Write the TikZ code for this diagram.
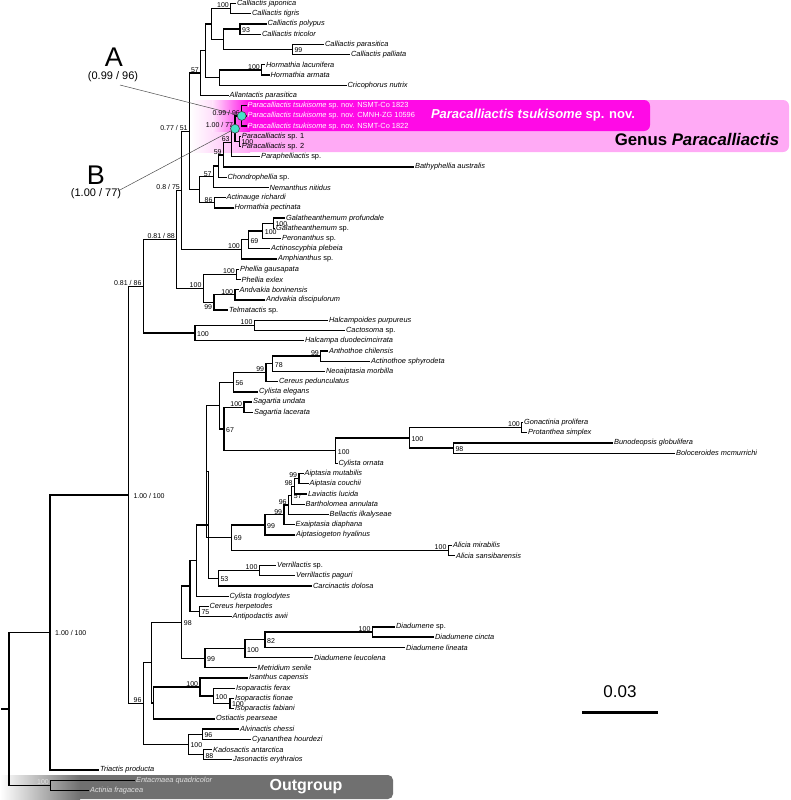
\documentclass[tikz,border=0pt]{standalone}
\usepackage{fontspec}
\setmainfont{Liberation Sans}
\begin{document}
\begin{tikzpicture}[x=1pt,y=-1pt,
    br/.style={line width=1.3pt},
    tip/.style={anchor=west, inner xsep=0.9pt, inner ysep=0pt, font=\fontsize{7.4}{8}\selectfont},
    bsl/.style={anchor=south east, inner sep=0.5pt, xshift=-1.2pt, font=\fontsize{7}{8}\selectfont},
    bsr/.style={anchor=west, inner sep=0.5pt, xshift=1.5pt, yshift=-1pt, font=\fontsize{7}{8}\selectfont},
    bsb/.style={anchor=north east, inner sep=0.5pt, xshift=-1.2pt, yshift=-1pt, font=\fontsize{7}{8}\selectfont},
    dot/.style={circle, fill=mydot, draw=black!75, line width=0.6pt, inner sep=0pt, minimum size=9pt},
    leader/.style={line width=0.5pt, black!70}]
    \definecolor{mydot}{RGB}{70,225,200}
    \definecolor{genpink}{RGB}{255,170,245}
    \definecolor{tsumag}{RGB}{255,10,230}
    \definecolor{ogray}{RGB}{112,112,112}

    \useasboundingbox (0,0) rectangle (790,800);

    % highlight boxes
    \fill[genpink, rounded corners=6pt] (240,100) rectangle (789,152);
    \shade[left color=white, right color=genpink] (190,100) rectangle (250,152);
    \fill[tsumag, rounded corners=6pt] (245,100) rectangle (650,131);
    \shade[left color=genpink!30!white, right color=tsumag] (212,100) rectangle (250,131);
    \fill[ogray, rounded corners=5pt] (75,775) rectangle (393,799);
    \shade[left color=white, right color=ogray] (0,775) rectangle (80,799);

    \node[text=white, font=\bfseries\fontsize{13}{15}\selectfont] (tsuname) at (533,115) {\textit{Paracalliactis tsukisome} sp. nov.};
    \node[font=\bfseries\fontsize{16.8}{18}\selectfont] (genname) at (697,139) {Genus \textit{Paracalliactis}};
    \node[text=white, font=\bfseries\fontsize{16}{18}\selectfont] (outg) at (306,787) {Outgroup};

    % tips
    \node[tip] (t1) at (236,3.5) {\textit{Calliactis japonica}};
    \node[tip] (t2) at (251,13.72) {\textit{Calliactis tigris}};
    \node[tip] (t3) at (266.5,23.94) {\textit{Calliactis polypus}};
    \node[tip] (t4) at (261,34.16) {\textit{Calliactis tricolor}};
    \node[tip] (t5) at (324,44.38) {\textit{Calliactis parasitica}};
    \node[tip] (t6) at (350,54.6) {\textit{Calliactis palliata}};
    \node[tip] (t7) at (265,64.82) {\textit{Hormathia lacunifera}};
    \node[tip] (t8) at (269.5,75.04) {\textit{Hormathia armata}};
    \node[tip] (t9) at (346.5,85.26) {\textit{Cricophorus nutrix}};
    \node[tip] (t10) at (228.5,95.48) {\textit{Allantactis parasitica}};
    \node[tip, text=white] (t11) at (246.5,105.7) {\textit{Paracalliactis tsukisome} sp. nov. NSMT-Co 1823};
    \node[tip, text=white] (t12) at (246.5,115.92) {\textit{Paracalliactis tsukisome} sp. nov. CMNH-ZG 10596};
    \node[tip, text=white] (t13) at (246.5,126.14) {\textit{Paracalliactis tsukisome} sp. nov. NSMT-Co 1822};
    \node[tip] (t14) at (240.8,136.36) {\textit{Paracalliactis} sp. 1};
    \node[tip] (t15) at (240.8,146.58) {\textit{Paracalliactis} sp. 2};
    \node[tip] (t16) at (260,156.8) {\textit{Paraphelliactis} sp.};
    \node[tip] (t17) at (414,167.02) {\textit{Bathyphellia australis}};
    \node[tip] (t18) at (226.5,177.24) {\textit{Chondrophellia} sp.};
    \node[tip] (t19) at (268.5,187.46) {\textit{Nemanthus nitidus}};
    \node[tip] (t20) at (225.5,197.68) {\textit{Actinauge richardi}};
    \node[tip] (t21) at (233.5,207.9) {\textit{Hormathia pectinata}};
    \node[tip] (t22) at (285,218.12) {\textit{Galatheanthemum profundale}};
    \node[tip] (t23) at (275,228.34) {\textit{Galatheanthemum} sp.};
    \node[tip] (t24) at (281,238.56) {\textit{Peronanthus} sp.};
    \node[tip] (t25) at (270,248.78) {\textit{Actinoscyphia plebeia}};
    \node[tip] (t26) at (277,259) {\textit{Amphianthus} sp.};
    \node[tip] (t27) at (239,269.22) {\textit{Phellia gausapata}};
    \node[tip] (t28) at (240.5,279.44) {\textit{Phellia exlex}};
    \node[tip] (t29) at (238.5,289.66) {\textit{Andvakia boninensis}};
    \node[tip] (t30) at (265,299.88) {\textit{Andvakia discipulorum}};
    \node[tip] (t31) at (228,310.1) {\textit{Telmatactis} sp.};
    \node[tip] (t32) at (328,320.32) {\textit{Halcampoides purpureus}};
    \node[tip] (t33) at (345,330.54) {\textit{Cactosoma} sp.};
    \node[tip] (t34) at (304,340.76) {\textit{Halcampa duodecimcirrata}};
    \node[tip] (t35) at (328,350.98) {\textit{Anthothoe chilensis}};
    \node[tip] (t36) at (370,361.2) {\textit{Actinothoe sphyrodeta}};
    \node[tip] (t37) at (325,371.42) {\textit{Neoaiptasia morbilla}};
    \node[tip] (t38) at (278,381.64) {\textit{Cereus pedunculatus}};
    \node[tip] (t39) at (258,391.86) {\textit{Cylista elegans}};
    \node[tip] (t40) at (252,402.08) {\textit{Sagartia undata}};
    \node[tip] (t41) at (253,412.3) {\textit{Sagartia lacerata}};
    \node[tip] (t42) at (523,422.52) {\textit{Gonactinia prolifera}};
    \node[tip] (t43) at (527,432.74) {\textit{Protanthea simplex}};
    \node[tip] (t44) at (613,442.96) {\textit{Bunodeopsis globulifera}};
    \node[tip] (t45) at (675,453.18) {\textit{Boloceroides mcmurrichi}};
    \node[tip] (t46) at (337.5,463.4) {\textit{Cylista ornata}};
    \node[tip] (t47) at (303.5,473.62) {\textit{Aiptasia mutabilis}};
    \node[tip] (t48) at (308.5,483.84) {\textit{Aiptasia couchii}};
    \node[tip] (t49) at (307,494.06) {\textit{Laviactis lucida}};
    \node[tip] (t50) at (304.5,504.28) {\textit{Bartholomea annulata}};
    \node[tip] (t51) at (328.5,514.5) {\textit{Bellactis ilkalyseae}};
    \node[tip] (t52) at (294.5,524.72) {\textit{Exaiptasia diaphana}};
    \node[tip] (t53) at (295,534.94) {\textit{Aiptasiogeton hyalinus}};
    \node[tip] (t54) at (452,545.16) {\textit{Alicia mirabilis}};
    \node[tip] (t55) at (455,555.38) {\textit{Alicia sansibarensis}};
    \node[tip] (t56) at (276,565.6) {\textit{Verrillactis} sp.};
    \node[tip] (t57) at (295,575.82) {\textit{Verrillactis paguri}};
    \node[tip] (t58) at (312,586.04) {\textit{Carcinactis dolosa}};
    \node[tip] (t59) at (228.5,596.26) {\textit{Cylista troglodytes}};
    \node[tip] (t60) at (208.5,606.48) {\textit{Cereus herpetodes}};
    \node[tip] (t61) at (231.5,616.7) {\textit{Antipodactis awii}};
    \node[tip] (t62) at (395,626.92) {\textit{Diadumene} sp.};
    \node[tip] (t63) at (434,637.14) {\textit{Diadumene cincta}};
    \node[tip] (t64) at (405,647.36) {\textit{Diadumene lineata}};
    \node[tip] (t65) at (313,657.58) {\textit{Diadumene leucolena}};
    \node[tip] (t66) at (256.5,667.8) {\textit{Metridium senile}};
    \node[tip] (t67) at (248,678.02) {\textit{Isanthus capensis}};
    \node[tip] (t68) at (235,688.24) {\textit{Isoparactis ferax}};
    \node[tip] (t69) at (234,698.46) {\textit{Isoparactis fionae}};
    \node[tip] (t70) at (234,708.68) {\textit{Isoparactis fabiani}};
    \node[tip] (t71) at (215,718.9) {\textit{Ostiactis pearseae}};
    \node[tip] (t72) at (239,729.12) {\textit{Alvinactis chessi}};
    \node[tip] (t73) at (251,739.34) {\textit{Cyananthea hourdezi}};
    \node[tip] (t74) at (212,749.56) {\textit{Kadosactis antarctica}};
    \node[tip] (t75) at (232,759.78) {\textit{Jasonactis erythraios}};
    \node[tip] (t76) at (99,770) {\textit{Triactis producta}};
    \node[tip, text=black!12] (t77) at (135,780.22) {\textit{Entacmaea quadricolor}};
    \node[tip, text=black!12] (t78) at (89,790.44) {\textit{Actinia fragacea}};

    % internal nodes
    \coordinate (JT) at (230.7,8.61);
    \coordinate (N93) at (240,29.05);
    \coordinate (N99C) at (292.3,49.49);
    \coordinate (C2) at (223.3,39.27);
    \coordinate (C1) at (211.7,23.94);
    \coordinate (Hm) at (261.7,69.93);
    \coordinate (H) at (219.3,77.6);
    \coordinate (CH) at (205.7,50.77);
    \coordinate (N57) at (200.7,73.13);
    \coordinate (A) at (241.7,115.92);
    \coordinate (SP) at (239.3,141.47);
    \coordinate (B) at (235,128.7);
    \coordinate (N63) at (231.5,142.75);
    \coordinate (N59) at (223.5,154.89);
    \coordinate (N57b) at (218.5,166.07);
    \coordinate (Nem) at (213.5,176.77);
    \coordinate (N86) at (214.3,202.79);
    \coordinate (X200) at (199.3,189.78);
    \coordinate (X190) at (189.5,131.46);
    \coordinate (G) at (273.3,223.23);
    \coordinate (GP2) at (262.7,230.9);
    \coordinate (N69G) at (248.3,239.84);
    \coordinate (Gal) at (241.7,249.42);
    \coordinate (a) at (181.7,190.44);
    \coordinate (Ph) at (236.7,274.33);
    \coordinate (An) at (235,294.77);
    \coordinate (N99An) at (214,302.44);
    \coordinate (PA) at (203.3,288.39);
    \coordinate (b) at (176.7,239.42);
    \coordinate (HC) at (254.3,325.43);
    \coordinate (Halc) at (195,333.1);
    \coordinate (c) at (143.3,286.26);
    \coordinate (Ant) at (320.7,356.09);
    \coordinate (N78) at (272.7,363.76);
    \coordinate (N99b) at (266,372.7);
    \coordinate (N56) at (233.3,382.28);
    \coordinate (Sag) at (244,407.19);
    \coordinate (GPr) at (521.7,427.63);
    \coordinate (N98c) at (453.3,448.07);
    \coordinate (Gon) at (409.3,437.85);
    \coordinate (Co) at (335.7,450.63);
    \coordinate (N67) at (224,428.91);
    \coordinate (K) at (219.3,405.6);
    \coordinate (Aip) at (299,478.73);
    \coordinate (N98L) at (294.5,486.4);
    \coordinate (N57B) at (291.7,495.34);
    \coordinate (N96B) at (288.5,504.92);
    \coordinate (N99E) at (284,514.82);
    \coordinate (N99G) at (265,524.88);
    \coordinate (Ali) at (448.3,550.27);
    \coordinate (N69) at (231.7,537.58);
    \coordinate (P) at (206.3,471.59);
    \coordinate (V) at (259.3,570.71);
    \coordinate (N53) at (218.3,578.38);
    \coordinate (Q) at (208.3,524.99);
    \coordinate (N) at (196.7,560.63);
    \coordinate (N75) at (199.3,611.59);
    \coordinate (J) at (190,586.11);
    \coordinate (Dsc) at (372.3,632.03);
    \coordinate (N82) at (265,639.7);
    \coordinate (D100) at (245,648.64);
    \coordinate (N99) at (205,658.22);
    \coordinate (N98) at (181.7,622.17);
    \coordinate (FF) at (230,703.57);
    \coordinate (Fe) at (213.3,695.91);
    \coordinate (I) at (200,686.97);
    \coordinate (h) at (153.3,702.94);
    \coordinate (g) at (151.7,662.56);
    \coordinate (AC) at (202.3,734.23);
    \coordinate (KJ) at (203.3,754.67);
    \coordinate (Alv) at (188.3,744.45);
    \coordinate (f) at (143.3,703.51);
    \coordinate (d) at (128.3,494.89);
    \coordinate (e) at (50,632.45);
    \coordinate (og) at (50.7,785.33);
    \coordinate (root) at (9,708.89);
    \coordinate (stub) at (1,708.89);

    % branches
    \draw[br] (stub) -- (root);
    \foreach \p/\c in {root/e, root/og, og/t77, og/t78, e/d, e/t76, d/c, d/f,
        c/b, c/Halc, b/a, b/PA, a/X190, a/Gal, X190/N57, X190/X200,
        N57/CH, N57/t10, CH/C1, CH/H, C1/JT, C1/C2, JT/t1, JT/t2,
        C2/N93, C2/N99C, N93/t3, N93/t4, N99C/t5, N99C/t6, H/Hm, H/t9, Hm/t7, Hm/t8,
        X200/Nem, X200/N86, Nem/N57b, Nem/t19, N57b/N59, N57b/t18, N59/N63, N59/t17,
        N63/B, N63/t16, B/A, B/SP, A/t11, A/t12, A/t13, SP/t14, SP/t15, N86/t20, N86/t21,
        Gal/N69G, Gal/t26, N69G/GP2, N69G/t25, GP2/G, GP2/t24, G/t22, G/t23,
        PA/Ph, PA/N99An, Ph/t27, Ph/t28, N99An/An, N99An/t31, An/t29, An/t30,
        Halc/HC, Halc/t34, HC/t32, HC/t33,
        f/g, f/Alv, g/N98, g/h, N98/J, N98/N99, J/N, J/N75, N/Q, N/t59,
        Q/P, Q/N53, P/K, P/N69, K/N56, K/N67,
        N56/N99b, N56/t39, N99b/N78, N99b/t38, N78/Ant, N78/t37, Ant/t35, Ant/t36,
        N67/Sag, N67/Co, Sag/t40, Sag/t41, Co/Gon, Co/t46, Gon/GPr, Gon/N98c,
        GPr/t42, GPr/t43, N98c/t44, N98c/t45,
        N69/N99G, N69/Ali, N99G/N99E, N99G/t53, N99E/N96B, N99E/t52, N96B/N57B, N96B/t51,
        N57B/N98L, N57B/t50, N98L/Aip, N98L/t49, Aip/t47, Aip/t48, Ali/t54, Ali/t55,
        N53/V, N53/t58, V/t56, V/t57, N75/t60, N75/t61,
        N99/D100, N99/t66, D100/N82, D100/t65, N82/Dsc, N82/t64, Dsc/t62, Dsc/t63,
        h/I, h/t71, I/t67, I/Fe, Fe/t68, Fe/FF, FF/t69, FF/t70,
        Alv/AC, Alv/KJ, AC/t72, AC/t73, KJ/t74, KJ/t75}
        \draw[br] (\p) |- (\c);

    % support values
    \foreach \n/\v in {JT/100, Hm/100, N57/57, N63/63, N59/59, Nem/57, N86/86, Gal/100,
        Ph/100, An/100, PA/100, HC/100, Ant/99, N99b/99, Sag/100, GPr/100, Aip/99, N98L/98,
        N96B/96, N99E/99, Ali/100, V/100, Dsc/100, I/100, f/96}
        \node[bsl] (s\n) at (\n) {\v};
    \foreach \n/\v in {N93/93, N99C/99, SP/100, G/100, GP2/100, N69G/69, Halc/100, N78/78,
        N56/56, N67/67, Co/100, Gon/100, N98c/98, N57B/57, N99G/99, N69/69, N53/53, N75/75,
        N98/98, N99/99, D100/100, N82/82, Fe/100, FF/100, Alv/100, AC/96, KJ/88}
        \node[bsr] (s\n) at (\n) {\v};
    \node[bsb] (sN99An) at (N99An) {99};
    \node[bsl] (sA) at (A) {0.99 / 96};
    \node[bsl] (sB) at (B) {1.00 / 77};
    \node[bsl] (sX190) at (X190) {0.77 / 51};
    \node[bsl] (sa) at (a) {0.8 / 75};
    \node[bsl] (sb) at (b) {0.81 / 88};
    \node[bsl] (sc) at (c) {0.81 / 86};
    \node[bsr, xshift=3pt] (sd) at (d) {1.00 / 100};
    \node[bsr, xshift=3pt] (se) at (e) {1.00 / 100};
    \node[bsl, text=black!12] (sog) at (og) {100};

    % callouts
    \node[font=\fontsize{27}{29}\selectfont] (labA) at (114,57) {A};
    \node[font=\fontsize{11}{13}\selectfont] (valA) at (113,77) {(0.99 / 96)};
    \node[font=\fontsize{27}{29}\selectfont] (labB) at (96,175) {B};
    \node[font=\fontsize{11}{13}\selectfont] (valB) at (96,194) {(1.00 / 77)};
    \coordinate (lA) at (120,85);
    \coordinate (lB) at (118,191);
    \node[dot] (cA) at (A) {};
    \node[dot] (cB) at (B) {};
    \draw[leader] (lA) -- (cA);
    \draw[leader] (lB) -- (cB);

    % scale bar
    \coordinate (sbl) at (582,712);
    \coordinate (sbr) at (658,712);
    \draw[line width=3pt] (sbl) -- (sbr);
    \node[font=\fontsize{17}{19}\selectfont] (sbt) at (620,692) {0.03};
\end{tikzpicture}
\end{document}
